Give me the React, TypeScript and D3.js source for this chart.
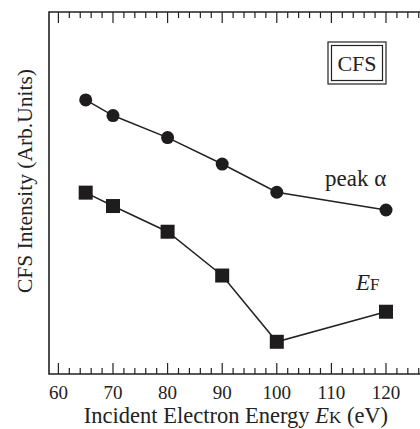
import * as d3 from "d3";
import { useEffect, useRef } from "react";

const energies = [65, 70, 80, 90, 100, 120];
const peakAlpha = [7.57, 7.14, 6.53, 5.8, 5.02, 4.53];
const fermiEdge = [5.01, 4.64, 3.93, 2.72, 0.89, 1.72];
const xTicks = [60, 70, 80, 90, 100, 110, 120];

const W = 420;
const H = 429;
const FONT = "Liberation Serif, Tinos, Times New Roman, Times, DejaVu Serif, serif";

export default function App() {
  const ref = useRef<SVGSVGElement>(null);

  useEffect(() => {
    const svg = d3.select(ref.current);
    svg.selectAll("*").remove();

    const left = 49;
    const top = 12;
    const bottom = 374;
    const right = 430;

    const x = d3.scaleLinear().domain([58.28, 58.28 + (right - left) / 5.46]).range([left, right]);
    const y = d3.scaleLinear().domain([0, 10]).range([bottom, top]);

    // minor + major ticks on top and bottom
    const minor = d3.range(60, 128, 2);
    const tg = svg.append("g").attr("stroke", "#222").attr("stroke-width", 1.2);
    minor.forEach((v) => {
      const len = v % 10 === 0 ? 11 : 6;
      tg.append("line").attr("x1", x(v)).attr("x2", x(v)).attr("y1", bottom).attr("y2", bottom - len);
      tg.append("line").attr("x1", x(v)).attr("x2", x(v)).attr("y1", top).attr("y2", top + len);
    });

    // frame
    svg.append("path")
      .attr("d", `M${right},${top}H${left}V${bottom}H${right}`)
      .attr("fill", "none")
      .attr("stroke", "#222")
      .attr("stroke-width", 1.6);

    const txt = (sel: any) =>
      sel.style("font-family", FONT).attr("fill", "#222");

    // tick labels
    txt(svg.append("g"))
      .attr("font-size", 19)
      .attr("text-anchor", "middle")
      .selectAll("text")
      .data(xTicks)
      .join("text")
      .attr("x", (d: number) => x(d))
      .attr("y", 399)
      .text((d: number) => d);

    const line = d3.line<number>()
      .x((_, i) => x(energies[i]))
      .y((d) => y(d));

    svg.append("path").attr("d", line(peakAlpha)).attr("fill", "none").attr("stroke", "#222").attr("stroke-width", 1.5);
    svg.append("path").attr("d", line(fermiEdge)).attr("fill", "none").attr("stroke", "#222").attr("stroke-width", 1.5);

    svg.append("g").selectAll("circle")
      .data(peakAlpha)
      .join("circle")
      .attr("cx", (_, i) => x(energies[i]))
      .attr("cy", (d) => y(d))
      .attr("r", 6.5)
      .attr("fill", "#1e1c1d");

    svg.append("g").selectAll("rect")
      .data(fermiEdge)
      .join("rect")
      .attr("x", (_, i) => x(energies[i]) - 7)
      .attr("y", (d) => y(d) - 7)
      .attr("width", 14)
      .attr("height", 14)
      .attr("fill", "#1e1c1d");

    // labels
    txt(svg.append("text"))
      .attr("x", 325).attr("y", 186)
      .attr("font-size", 23)
      .text("peak α");

    const ef = txt(svg.append("text"))
      .attr("x", 356).attr("y", 290)
      .attr("font-size", 23);
    ef.append("tspan").attr("font-style", "italic").text("E");
    ef.append("tspan").attr("font-size", 17).text("F");

    // CFS box
    svg.append("rect").attr("x", 328).attr("y", 42).attr("width", 58).attr("height", 42)
      .attr("fill", "none").attr("stroke", "#222").attr("stroke-width", 1.2);
    svg.append("rect").attr("x", 331.5).attr("y", 45.5).attr("width", 51).attr("height", 35)
      .attr("fill", "none").attr("stroke", "#222").attr("stroke-width", 1.2);
    txt(svg.append("text"))
      .attr("x", 357).attr("y", 71)
      .attr("text-anchor", "middle")
      .attr("font-size", 22)
      .text("CFS");

    // axis titles
    txt(svg.append("text"))
      .attr("transform", "translate(32,181) rotate(-90)")
      .attr("text-anchor", "middle")
      .attr("font-size", 21.5)
      .text("CFS Intensity (Arb.Units)");

    const xt = txt(svg.append("text"))
      .attr("x", 236).attr("y", 423)
      .attr("text-anchor", "middle")
      .attr("font-size", 22.5);
    xt.append("tspan").text("Incident Electron Energy ");
    xt.append("tspan").attr("font-style", "italic").text("E");
    xt.append("tspan").attr("font-size", 17).text("K");
    xt.append("tspan").text(" (eV)");
  }, []);

  return (
    <svg
      ref={ref}
      width={W}
      height={H}
      style={{ position: "absolute", left: 0, top: 0, background: "#fff" }}
    />
  );
}
